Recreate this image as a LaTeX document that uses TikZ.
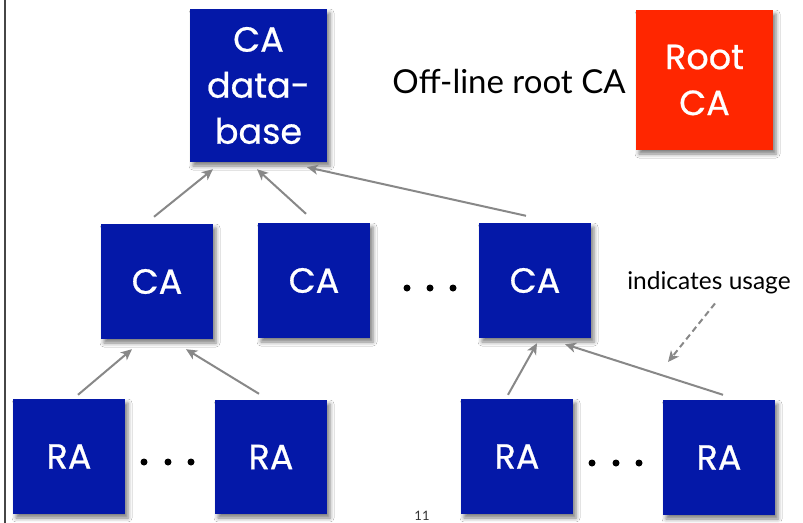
\documentclass[tikz,border=0pt]{standalone}
\usepackage{fontspec}
\setmainfont{Lato}
\newfontfamily\boxfont[FakeBold=0.6]{Poppins}
\usetikzlibrary{shadows.blur,arrows.meta,calc}
\definecolor{cablue}{RGB}{4,24,168}
\definecolor{rootred}{RGB}{255,38,0}
\definecolor{linkgray}{RGB}{136,136,136}
\definecolor{edgegray}{RGB}{70,70,70}
\tikzset{
  unit/.style={fill=cablue, minimum width=112pt, minimum height=115pt,
    inner sep=0pt, text=white, align=center,
    font=\boxfont\fontsize{35}{46}\selectfont,
    blur shadow={shadow xshift=3pt, shadow yshift=-4pt,
      shadow blur radius=4pt, shadow opacity=50}},
  link/.style={draw=linkgray, line width=2pt,
    -{Stealth[length=11pt,width=10pt,inset=3pt]}},
  uselink/.style={link, dash pattern=on 6pt off 4pt},
  dot/.style={circle, fill=black, inner sep=0pt, minimum size=7pt},
  label/.style={inner sep=0pt, text=black},
}
\begin{document}
\begin{tikzpicture}[x=1pt, y=-1pt]
  \useasboundingbox (0,0) rectangle (803,522);
  \clip (0,0) rectangle (803,522);
  \fill[white] (0,0) rectangle (803,522);

  % page edge on the left
  \draw[edgegray, line width=1.3pt] (5,-2) -- (5,524);

  % database and root
  \node[unit, minimum width=137pt, minimum height=153pt] (db) at (258.5,85.5) {CA\\data-\\base};
  \node[unit, fill=rootred, minimum width=137pt, minimum height=140pt] (root) at (704.5,80) {Root\\CA};
  \node[label, font=\fontsize{33}{38}\selectfont] (offline) at (509,81) {Off-line root CA};

  % certification authorities
  \node[unit] (ca1) at (157,281.5) {CA};
  \node[unit] (ca2) at (314,280.5) {CA};
  \node[unit] (ca3) at (535,280.5) {CA};

  % registration authorities
  \node[unit] (ra1) at (69,456.5) {RA};
  \node[unit, minimum height=114pt] (ra2) at (271,457) {RA};
  \node[unit] (ra3) at (517,456.5) {RA};
  \node[unit] (ra4) at (719,457.5) {RA};

  % ellipses
  \node[dot] (d1) at (407,288) {};
  \node[dot] (d2) at (430,288) {};
  \node[dot] (d3) at (453,288) {};
  \node[dot] (d4) at (144,462) {};
  \node[dot] (d5) at (168,462) {};
  \node[dot] (d6) at (191,462) {};
  \node[dot] (d7) at (592,463) {};
  \node[dot] (d8) at (616,463) {};
  \node[dot] (d9) at (639,463) {};

  % CA -> database
  \draw[link] ($(ca1.north)+(-3,-7)$) -- ($(db.south)+(-45.5,7)$);
  \draw[link] ($(ca2.north)+(-8,-9)$) -- ($(db.south)+(-1.5,7)$);
  \draw[link] ($(ca3.north)+(-9,-7)$) -- ($(db.south)+(48.5,5)$);

  % RA -> CA
  \draw[link] ($(ra1.north)+(9,-4)$) -- ($(ca1.south)+(-25,10)$);
  \draw[link] ($(ra2.north)+(-12,-6)$) -- ($(ca1.south)+(29,10)$);
  \draw[link] ($(ra3.north)+(-9,-4)$) -- ($(ca3.south)+(2,5)$);
  \draw[link] ($(ra4.north)+(4,-5)$) -- ($(ca3.south)+(30,6)$);

  % legend
  \node[label, font=\fontsize{24.5}{28}\selectfont] (usage) at (709,283) {indicates usage};
  \coordinate (usetip) at (668,362);
  \draw[uselink] ($(usage.south)+(6,9)$) -- (usetip);

  % page number
  \node[label, font=\fontsize{13}{15}\selectfont, text=black!80, anchor=south] (pg) at (422,521) {11};
\end{tikzpicture}
\end{document}
